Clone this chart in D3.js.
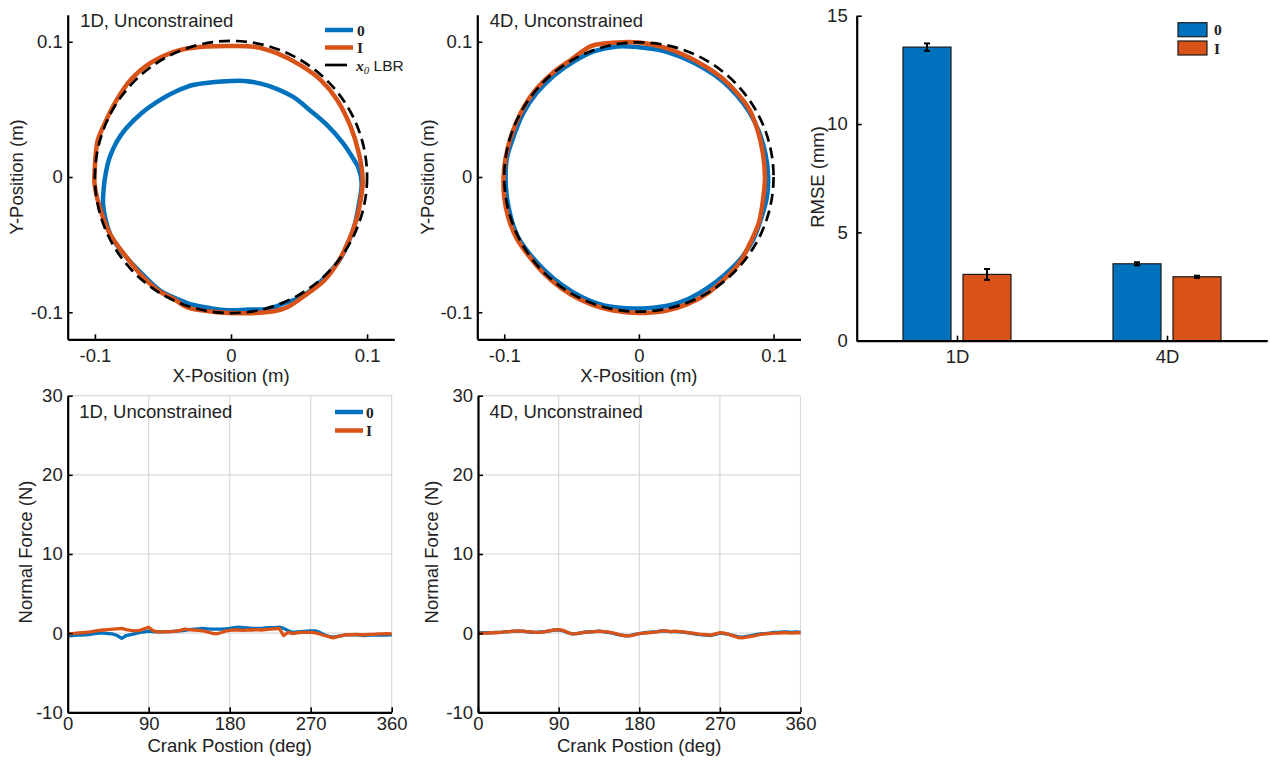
<!DOCTYPE html>
<html><head><meta charset="utf-8">
<script src="https://cdn.jsdelivr.net/npm/d3@7"></script>
<style>
body{margin:0;background:#fff}
svg{display:block}
text{font-family:"Liberation Sans",Arial,sans-serif;fill:#222}
</style></head><body>
<svg id="chart" width="1270" height="760"></svg>
<script>
// ---------------- DATA ----------------
const seriesNames = ["0", "I"];
const seriesColors = ["#0072BD", "#D95319"];

// Trajectories (X, Y in metres)
const traj1D_0_x = [0.096,0.094,0.0906,0.082,0.071,0.059,0.046,0.034,0.022,0.010,0.000,-0.014,-0.028,-0.041,-0.052,-0.066,-0.077,-0.084,-0.089,-0.092,-0.0935,-0.094,-0.092,-0.088,-0.078,-0.065,-0.052,-0.040,-0.030,-0.015,-0.003,0.013,0.027,0.040,0.051,0.062,0.071,0.080,0.086,0.091,0.094];
const traj1D_0_y = [-0.005,0.006,0.0124,0.0255,0.038,0.0485,0.059,0.065,0.069,0.071,0.071,0.070,0.068,0.063,0.057,0.047,0.036,0.026,0.015,0.003,-0.008,-0.020,-0.032,-0.044,-0.058,-0.072,-0.084,-0.090,-0.094,-0.097,-0.0985,-0.098,-0.0975,-0.093,-0.089,-0.081,-0.072,-0.061,-0.049,-0.035,-0.020];
const traj1D_I_x = [0.0968,0.094,0.088,0.078,0.066,0.051,0.034,0.0167,-0.003,-0.0276,-0.042,-0.0597,-0.074,-0.084,-0.094,-0.098,-0.1003,-0.1003,-0.0966,-0.089,-0.077,-0.0646,-0.052,-0.0424,-0.0325,-0.0103,0.0118,0.0315,0.0414,0.056,0.0685,0.078,0.0857,0.092,0.0956];
const traj1D_I_y = [-0.0024,0.0173,0.037,0.057,0.0716,0.0827,0.0914,0.0963,0.0968,0.0956,0.0926,0.084,0.0716,0.057,0.037,0.027,0.0025,-0.0049,-0.022,-0.042,-0.059,-0.074,-0.085,-0.090,-0.0963,-0.100,-0.1007,-0.0993,-0.0963,-0.0864,-0.0765,-0.064,-0.049,-0.032,-0.0148];
const traj4D_0_x = [0.096,0.094,0.089,0.082,0.073,0.062,0.049,0.033,0.017,0.000,-0.016,-0.033,-0.049,-0.063,-0.076,-0.086,-0.093,-0.098,-0.099,-0.098,-0.095,-0.090,-0.081,-0.070,-0.057,-0.042,-0.026,-0.009,0.006,0.022,0.037,0.051,0.064,0.076,0.085,0.091,0.095];
const traj4D_0_y = [0.000,0.017,0.034,0.048,0.060,0.071,0.080,0.088,0.0935,0.096,0.0965,0.093,0.085,0.075,0.062,0.047,0.030,0.014,0.000,-0.015,-0.030,-0.044,-0.057,-0.069,-0.080,-0.089,-0.095,-0.097,-0.097,-0.095,-0.090,-0.082,-0.072,-0.060,-0.046,-0.030,-0.015];
const traj4D_I_x = [0.0936,0.092,0.088,0.082,0.073,0.062,0.049,0.034,0.018,0.000,-0.016,-0.035,-0.050,-0.064,-0.078,-0.088,-0.095,-0.099,-0.1005,-0.100,-0.097,-0.091,-0.082,-0.071,-0.058,-0.043,-0.027,-0.010,0.005,0.020,0.036,0.051,0.064,0.075,0.083,0.089,0.092];
const traj4D_I_y = [0.000,0.018,0.035,0.050,0.062,0.073,0.082,0.090,0.096,0.0995,0.0995,0.097,0.087,0.077,0.063,0.047,0.030,0.014,0.000,-0.015,-0.030,-0.045,-0.058,-0.071,-0.082,-0.091,-0.097,-0.100,-0.1005,-0.099,-0.094,-0.086,-0.075,-0.063,-0.048,-0.034,-0.018];
const lbrRadius = 0.1;

// RMSE bars
const rmseCategories = ["1D", "4D"];
const rmse_0 = [13.55, 3.55];
const rmse_I = [3.06, 2.95];
const rmseErr_0 = [0.17, 0.07];
const rmseErr_I = [0.25, 0.05];

// Normal force vs crank position
const crankDeg = [0,5,10,15,20,25,30,35,40,45,50,55,60,65,70,75,80,85,90,95,100,105,110,115,120,125,130,135,140,145,150,155,160,165,170,175,180,185,190,195,200,205,210,215,220,225,230,235,240,245,250,255,260,265,270,275,280,285,290,295,300,305,310,315,320,325,330,335,340,345,350,355,360];
const force1D_0 = [-0.35,-0.30,-0.25,-0.25,-0.20,-0.15,-0.05,0.00,0.00,-0.05,-0.10,-0.30,-0.65,-0.30,-0.20,-0.05,0.10,0.15,0.25,0.20,0.15,0.15,0.20,0.20,0.25,0.30,0.35,0.45,0.50,0.55,0.60,0.55,0.50,0.50,0.50,0.55,0.60,0.70,0.75,0.70,0.65,0.60,0.60,0.60,0.65,0.70,0.70,0.75,0.60,0.30,0.10,0.15,0.20,0.25,0.30,0.30,0.10,-0.20,-0.40,-0.50,-0.40,-0.30,-0.20,-0.20,-0.20,-0.25,-0.30,-0.25,-0.20,-0.25,-0.20,-0.25,-0.20];
const force1D_I = [-0.10,-0.05,0.00,0.05,0.10,0.15,0.25,0.35,0.40,0.45,0.50,0.55,0.60,0.45,0.35,0.30,0.35,0.55,0.75,0.30,0.15,0.15,0.20,0.20,0.25,0.35,0.50,0.45,0.40,0.35,0.30,0.15,0.00,-0.10,0.05,0.25,0.35,0.40,0.40,0.35,0.40,0.40,0.45,0.40,0.45,0.50,0.55,0.60,-0.30,0.10,-0.05,0.05,0.10,0.10,0.10,0.05,-0.10,-0.30,-0.45,-0.60,-0.45,-0.30,-0.20,-0.20,-0.15,-0.20,-0.20,-0.15,-0.15,-0.10,-0.10,-0.05,-0.10];
const force4D_0 = [0.00,0.05,0.05,0.05,0.10,0.10,0.15,0.20,0.25,0.25,0.25,0.15,0.10,0.10,0.15,0.20,0.30,0.40,0.40,0.30,0.05,-0.10,-0.05,0.05,0.15,0.15,0.20,0.25,0.20,0.10,0.00,-0.15,-0.25,-0.35,-0.30,-0.15,-0.05,0.05,0.10,0.15,0.20,0.30,0.25,0.20,0.20,0.15,0.10,0.05,-0.05,-0.15,-0.20,-0.25,-0.30,-0.15,0.00,-0.05,-0.15,-0.30,-0.45,-0.50,-0.40,-0.30,-0.20,-0.10,-0.05,0.00,0.10,0.10,0.15,0.15,0.10,0.15,0.10];
const force4D_I = [-0.05,0.00,0.00,0.05,0.05,0.10,0.15,0.20,0.25,0.30,0.25,0.20,0.15,0.10,0.10,0.20,0.30,0.40,0.45,0.35,0.10,-0.10,-0.05,0.05,0.10,0.15,0.20,0.25,0.20,0.15,0.05,-0.10,-0.25,-0.35,-0.35,-0.20,-0.05,0.00,0.05,0.10,0.15,0.30,0.30,0.20,0.25,0.20,0.15,0.05,0.00,-0.10,-0.15,-0.20,-0.25,-0.10,0.05,0.00,-0.15,-0.35,-0.55,-0.60,-0.50,-0.40,-0.30,-0.15,-0.10,-0.05,0.00,0.00,0.05,0.05,0.00,0.05,0.05];

// tick values
const posTicks = [-0.1, 0, 0.1];
const rmseTicks = [0, 5, 10, 15];
const forceTicks = [-10, 0, 10, 20, 30];
const crankTicks = [0, 90, 180, 270, 360];

// ---------------- DRAWING ----------------
const svg = d3.select("#chart");
const FS = 18.5;
const LFS = 15.5;
const fmt = d => d === 0 ? "0" : String(d);

function styleAxis(g) {
  g.selectAll(".domain").attr("stroke", "#000").attr("stroke-width", 2.2);
  g.selectAll(".tick line").attr("stroke", "#000").attr("stroke-width", 1.6);
  g.selectAll(".tick text").attr("fill", "#222").style("font-size", FS + "px")
    .style("font-family", '"Liberation Sans",Arial,sans-serif');
}

function legendText(g, x, y, label) {
  g.append("text").attr("x", x).attr("y", y)
    .style("font-family", '"Liberation Serif","Times New Roman",serif')
    .style("font-weight", "bold").style("font-size", LFS + "px").attr("fill", "#111").text(label);
}

function circlePanel(opt) {
  const x = d3.scaleLinear([-0.12, 0.12], opt.xr);
  const y = d3.scaleLinear([-0.12, 0.12], [339.3, 14.7]);
  const g = svg.append("g");
  const line = d3.line().x(d => x(d[0])).y(d => y(d[1])).curve(d3.curveCatmullRomClosed);
  opt.trajs.forEach((t, i) => {
    const pts = t.x.map((v, k) => [v, t.y[k]]);
    g.append("path").attr("d", line(pts)).attr("fill", "none")
      .attr("stroke", seriesColors[i]).attr("stroke-width", 4.5).attr("stroke-linejoin", "round");
  });
  g.append("circle").attr("cx", x(0)).attr("cy", y(0)).attr("r", x(lbrRadius) - x(0))
    .attr("fill", "none").attr("stroke", "#000").attr("stroke-width", 2.7).attr("stroke-dasharray", "11,6");

  const ax = g.append("g").attr("transform", `translate(0,${y(-0.12)})`)
    .call(d3.axisBottom(x).tickValues(posTicks).tickFormat(fmt).tickSize(-5).tickSizeOuter(0).tickPadding(10));
  styleAxis(ax);
  const ay = g.append("g").attr("transform", `translate(${x(-0.12)},0)`)
    .call(d3.axisLeft(y).tickValues(posTicks).tickFormat(fmt).tickSize(-5).tickSizeOuter(0).tickPadding(5));
  styleAxis(ay);

  g.append("text").attr("x", (opt.xr[0] + opt.xr[1]) / 2).attr("y", 382).attr("text-anchor", "middle")
    .style("font-size", FS + "px").text("X-Position (m)");
  g.append("text").attr("transform", `translate(${opt.ylab},177) rotate(-90)`).attr("text-anchor", "middle")
    .style("font-size", FS + "px").text("Y-Position (m)");
  g.append("text").attr("x", opt.xr[0] + 12.5).attr("y", 27.3).style("font-size", FS + "px").text(opt.title);
  return {g, x, y};
}

// Panel 1
const p1 = circlePanel({xr: [67.7, 394.3], ylab: 23, title: "1D, Unconstrained",
  trajs: [{x: traj1D_0_x, y: traj1D_0_y}, {x: traj1D_I_x, y: traj1D_I_y}]});
// legend panel 1
{
  const lg = p1.g.append("g");
  const rows = [30, 47.5, 65];
  lg.append("line").attr("x1", 325).attr("x2", 353).attr("y1", rows[0]).attr("y2", rows[0]).attr("stroke", seriesColors[0]).attr("stroke-width", 4.5);
  lg.append("line").attr("x1", 325).attr("x2", 353).attr("y1", rows[1]).attr("y2", rows[1]).attr("stroke", seriesColors[1]).attr("stroke-width", 4.5);
  lg.append("line").attr("x1", 325).attr("x2", 353).attr("y1", rows[2]).attr("y2", rows[2]).attr("stroke", "#000").attr("stroke-width", 2.7).attr("stroke-dasharray", "22,10");
  legendText(lg, 357, rows[0] + 5.5, seriesNames[0]);
  legendText(lg, 357, rows[1] + 5.5, seriesNames[1]);
  const t = lg.append("text").attr("x", 356).attr("y", rows[2] + 5.5).style("font-size", LFS + "px");
  t.append("tspan").style("font-family", '"Liberation Serif","Times New Roman",serif').style("font-style", "italic").style("font-weight", "bold").style("font-size", LFS + "px").text("x");
  t.append("tspan").attr("dy", 3).style("font-family", '"Liberation Serif","Times New Roman",serif').style("font-style", "italic").style("font-size", "11px").text("0");
  t.append("tspan").attr("dy", -3).text(" LBR");
}

// Panel 2
circlePanel({xr: [477.3, 800.5], ylab: 434, title: "4D, Unconstrained",
  trajs: [{x: traj4D_0_x, y: traj4D_0_y}, {x: traj4D_I_x, y: traj4D_I_y}]});

// Panel 3: RMSE bars
{
  const g = svg.append("g");
  const y = d3.scaleLinear([0, 15], [340.7, 15.7]);
  const x = d3.scalePoint(rmseCategories, [856.7, 1267.3]).padding(0.4776);
  const xi = d3.scaleBand(seriesNames, [-54, 54]).paddingInner(0.2);
  const vals = [rmse_0, rmse_I], errs = [rmseErr_0, rmseErr_I];
  seriesNames.forEach((s, i) => {
    rmseCategories.forEach((c, j) => {
      const bx = x(c) + xi(s);
      g.append("rect").attr("x", bx).attr("width", xi.bandwidth())
        .attr("y", y(vals[i][j])).attr("height", y(0) - y(vals[i][j]))
        .attr("fill", seriesColors[i]).attr("stroke", "#1a1a1a").attr("stroke-width", 1.2);
      const cx = bx + xi.bandwidth() / 2;
      const lo = y(vals[i][j] - errs[i][j]), hi = y(vals[i][j] + errs[i][j]);
      g.append("line").attr("x1", cx).attr("x2", cx).attr("y1", lo).attr("y2", hi).attr("stroke", "#000").attr("stroke-width", 2);
      [lo, hi].forEach(yy => g.append("line").attr("x1", cx - 3).attr("x2", cx + 3).attr("y1", yy).attr("y2", yy).attr("stroke", "#000").attr("stroke-width", 2));
    });
  });
  const ax = g.append("g").attr("transform", `translate(0,${y(0)})`)
    .call(d3.axisBottom(x).tickSize(-5).tickSizeOuter(0).tickPadding(9));
  styleAxis(ax);
  const ay = g.append("g").attr("transform", `translate(856.7,0)`)
    .call(d3.axisLeft(y).tickValues(rmseTicks).tickFormat(fmt).tickSize(-5).tickSizeOuter(0).tickPadding(9));
  styleAxis(ay);
  g.append("text").attr("transform", "translate(824,177) rotate(-90)").attr("text-anchor", "middle")
    .style("font-size", FS + "px").text("RMSE (mm)");
  // legend
  const lr = [22.7, 41];
  seriesNames.forEach((s, i) => {
    g.append("rect").attr("x", 1178).attr("y", lr[i]).attr("width", 29).attr("height", 14)
      .attr("fill", seriesColors[i]).attr("stroke", "#1a1a1a").attr("stroke-width", 1.2);
    legendText(g, 1214, lr[i] + 12.5, s);
  });
}

// Force panels
function forcePanel(opt) {
  const x = d3.scaleLinear([0, 360], opt.xr);
  const y = d3.scaleLinear([-10, 30], [712.3, 395.7]);
  const g = svg.append("g");
  // grid
  crankTicks.forEach(t => g.append("line").attr("x1", x(t)).attr("x2", x(t)).attr("y1", y(-10)).attr("y2", y(30)).attr("stroke", "#d9d9d9").attr("stroke-width", 1.2));
  forceTicks.forEach(t => g.append("line").attr("x1", x(0)).attr("x2", x(360)).attr("y1", y(t)).attr("y2", y(t)).attr("stroke", "#d9d9d9").attr("stroke-width", 1.2));
  const line = d3.line().x((d, k) => x(crankDeg[k])).y(d => y(d));
  opt.series.forEach((s, i) => {
    g.append("path").attr("d", line(s)).attr("fill", "none").attr("stroke", seriesColors[i])
      .attr("stroke-width", 3.3).attr("stroke-linejoin", "round");
  });
  const ax = g.append("g").attr("transform", `translate(0,${y(-10)})`)
    .call(d3.axisBottom(x).tickValues(crankTicks).tickFormat(fmt).tickSize(-5).tickSizeOuter(0).tickPadding(5));
  styleAxis(ax);
  const ay = g.append("g").attr("transform", `translate(${x(0)},0)`)
    .call(d3.axisLeft(y).tickValues(forceTicks).tickFormat(fmt).tickSize(-5).tickSizeOuter(0).tickPadding(5));
  styleAxis(ay);
  g.append("text").attr("x", (opt.xr[0] + opt.xr[1]) / 2).attr("y", 752).attr("text-anchor", "middle")
    .style("font-size", FS + "px").text("Crank Postion (deg)");
  g.append("text").attr("transform", `translate(${opt.ylab},552) rotate(-90)`).attr("text-anchor", "middle")
    .style("font-size", FS + "px").text("Normal Force (N)");
  g.append("text").attr("x", opt.xr[0] + 11.5).attr("y", 418.3).style("font-size", FS + "px").text(opt.title);
  return g;
}

const p4 = forcePanel({xr: [67.7, 391.7], ylab: 32, title: "1D, Unconstrained", series: [force1D_0, force1D_I]});
{
  const rows = [412, 430.5];
  seriesNames.forEach((s, i) => {
    p4.append("line").attr("x1", 335).attr("x2", 363).attr("y1", rows[i]).attr("y2", rows[i]).attr("stroke", seriesColors[i]).attr("stroke-width", 4.5);
    legendText(p4, 366, rows[i] + 5.5, s);
  });
}
forcePanel({xr: [478, 800.5], ylab: 438, title: "4D, Unconstrained", series: [force4D_0, force4D_I]});
</script>
</body></html>
